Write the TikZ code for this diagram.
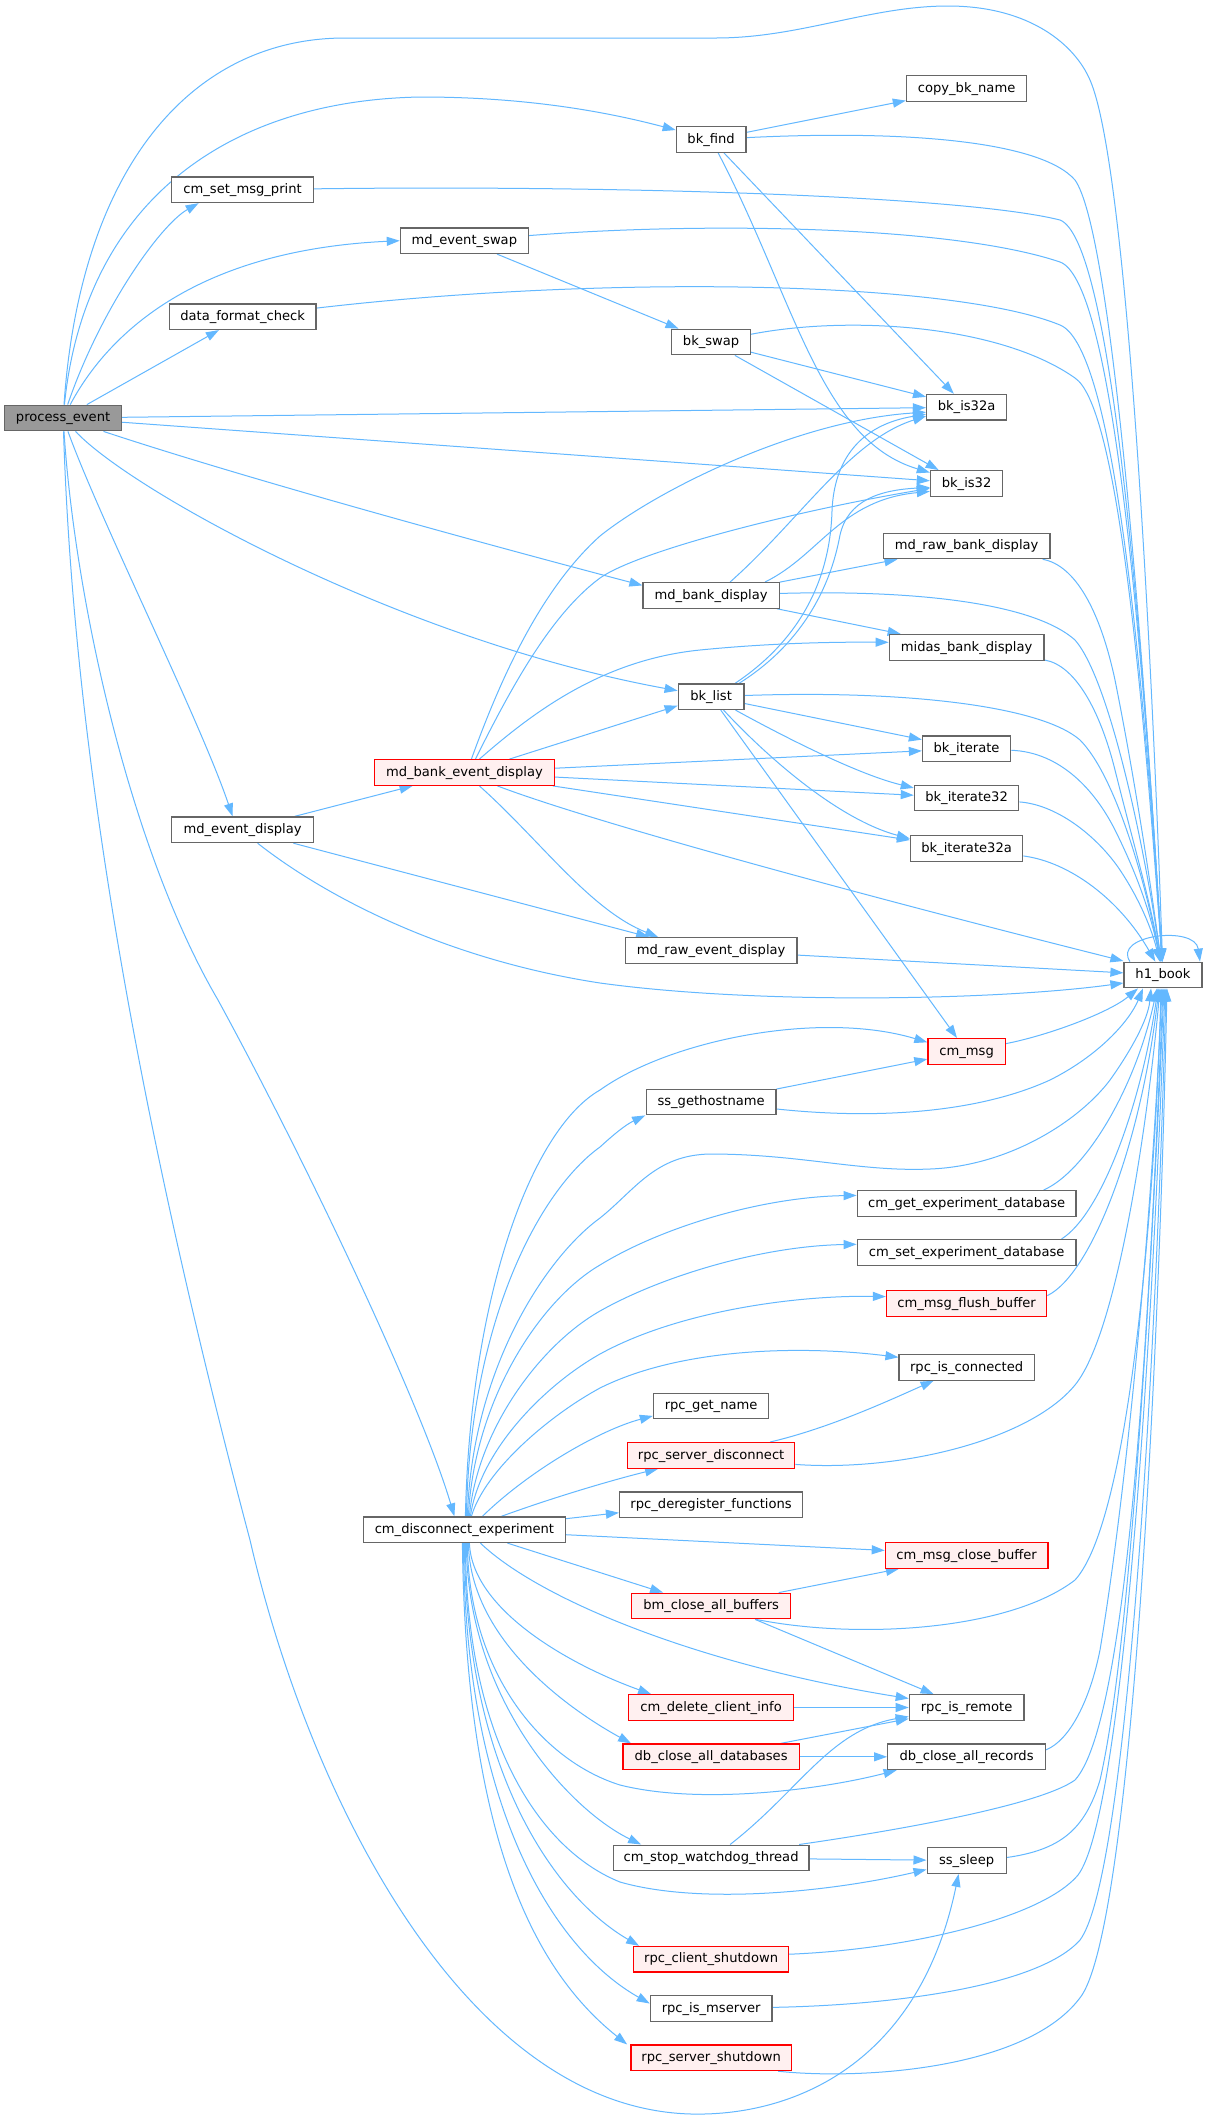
\documentclass[tikz,border=0pt]{standalone}
\usepackage{fontspec}
\newfontfamily\dvs{DejaVu Sans}
\usetikzlibrary{arrows.meta}
\definecolor{edgec}{HTML}{63B8FF}
\definecolor{ndb}{HTML}{666666}
\definecolor{redf}{HTML}{FFF0F0}
\definecolor{grayf}{HTML}{999999}
\pgfdeclarelayer{bg}
\pgfsetlayers{bg,main}
\begin{document}
\begin{tikzpicture}[x=1pt,y=-1pt,
  nd/.style={draw=ndb, fill=white, line width=1.2pt, minimum height=25.6pt, inner sep=0pt,
    text height=10pt, text depth=2.6pt, font=\dvs\fontsize{13.1pt}{15pt}\selectfont},
  rnd/.style={nd, draw=red, fill=redf},
  edg/.style={draw=edgec, line width=1pt, -{Triangle[length=13pt,width=9pt]}}]
\useasboundingbox (0,0) rectangle (1207,2121);
% nodes
\node[nd,fill=grayf,minimum width=116.8pt] (pe) at (63.1,418) {process\_event};
\node[nd,minimum width=141.6pt] (cmset) at (242.6,189.8) {cm\_set\_msg\_print};
\node[nd,minimum width=146.9pt] (dfc) at (242.6,316.7) {data\_format\_check};
\node[nd,minimum width=141.6pt] (mdevd) at (242.6,829.8) {md\_event\_display};
\node[nd,minimum width=128.2pt] (mdswap) at (464.4,240.7) {md\_event\_swap};
\node[rnd,minimum width=180.2pt] (mdbed) at (464.4,772.5) {md\_bank\_event\_display};
\node[nd,minimum width=201.6pt] (cmdis) at (464.4,1529.7) {cm\_disconnect\_experiment};
\node[nd,minimum width=69.7pt] (bkfind) at (711.1,139.4) {bk\_find};
\node[nd,minimum width=78.6pt] (bkswap) at (711.1,342) {bk\_swap};
\node[nd,minimum width=136.2pt] (mdbd) at (711.1,595.4) {md\_bank\_display};
\node[nd,minimum width=65.8pt] (bklist) at (711.1,696.7) {bk\_list};
\node[nd,minimum width=171.8pt] (mdred) at (711.1,950.4) {md\_raw\_event\_display};
\node[nd,minimum width=129.6pt] (ssgh) at (711.1,1102) {ss\_gethostname};
\node[nd,minimum width=115.4pt] (rpcgn) at (711.1,1405.9) {rpc\_get\_name};
\node[rnd,minimum width=167.2pt] (rpcsd) at (711.1,1455.4) {rpc\_server\_disconnect};
\node[nd,minimum width=183.2pt] (rpcdf) at (711.1,1504.7) {rpc\_deregister\_functions};
\node[rnd,minimum width=158.8pt] (bmcab) at (711.1,1606) {bm\_close\_all\_buffers};
\node[rnd,minimum width=165.4pt] (cmdci) at (711.1,1707.5) {cm\_delete\_client\_info};
\node[rnd,minimum width=176.2pt] (dbcad) at (711.1,1756.8) {db\_close\_all\_databases};
\node[nd,minimum width=195.9pt] (cmswt) at (711.1,1857.9) {cm\_stop\_watchdog\_thread};
\node[rnd,minimum width=154.8pt] (rpccs) at (711.1,1959.2) {rpc\_client\_shutdown};
\node[nd,minimum width=121.6pt] (rpcim) at (711.1,2008.5) {rpc\_is\_mserver};
\node[rnd,minimum width=160.2pt] (rpcss) at (711.1,2057.8) {rpc\_server\_shutdown};
\node[nd,minimum width=120.4pt] (copy) at (966.6,88.5) {copy\_bk\_name};
\node[nd,minimum width=80.1pt] (is32a) at (966.6,407.2) {bk\_is32a};
\node[nd,minimum width=72.4pt] (is32) at (966.6,483.4) {bk\_is32};
\node[nd,minimum width=166.8pt] (mdrbd) at (966.6,545.9) {md\_raw\_bank\_display};
\node[nd,minimum width=154.8pt] (midas) at (966.6,647.3) {midas\_bank\_display};
\node[nd,minimum width=88.3pt] (iter) at (966.6,748.7) {bk\_iterate};
\node[nd,minimum width=104.5pt] (iter32) at (966.6,797.9) {bk\_iterate32};
\node[nd,minimum width=112.3pt] (iter32a) at (966.6,848.6) {bk\_iterate32a};
\node[rnd,minimum width=77.4pt] (cmmsg) at (966.6,1051.3) {cm\_msg};
\node[nd,minimum width=218.8pt] (cmget) at (966.6,1203.4) {cm\_get\_experiment\_database};
\node[nd,minimum width=218.8pt] (cmsetdb) at (966.6,1252.3) {cm\_set\_experiment\_database};
\node[rnd,minimum width=160.3pt] (flush) at (966.6,1303.6) {cm\_msg\_flush\_buffer};
\node[nd,minimum width=135.1pt] (rpcic) at (966.6,1367.3) {rpc\_is\_connected};
\node[rnd,minimum width=162.6pt] (cmcb) at (966.6,1555.4) {cm\_msg\_close\_buffer};
\node[nd,minimum width=114.6pt] (rpcir) at (966.6,1707.5) {rpc\_is\_remote};
\node[nd,minimum width=157.9pt] (dbcar) at (966.6,1756.8) {db\_close\_all\_records};
\node[nd,minimum width=79pt] (sssleep) at (966.6,1860.5) {ss\_sleep};
\node[nd,minimum width=78pt] (h1) at (1163,975) {h1\_book};
\begin{pgfonlayer}{bg}
\fill[white] (0,0) rectangle (1207,2121);
% process_event
\draw[edg] (pe) .. controls (80,170) and (190,38) .. (345,38) -- (716,38) .. controls (800,38) and (870,6) .. (948,6) .. controls (1030,6) and (1075,45) .. (1090,80) .. controls (1125,160) and (1150,600) .. (h1);
\draw[edg] (pe) .. controls (85,200) and (230,100) .. (421,97) .. controls (520,97) and (600,110) .. (bkfind);
\draw[edg] (pe) .. controls (100,310) and (160,225) .. ([xshift=-44pt]cmset.south);
\draw[edg] (pe) .. controls (110,330) and (200,250) .. (mdswap.west);
\draw[edg] (pe) -- (dfc);
\draw[edg] (pe) -- (is32a);
\draw[edg] (pe) -- (is32);
\draw[edg] (pe) .. controls (250,480) and (500,548) .. ([yshift=10pt]mdbd.west);
\draw[edg] (pe) .. controls (130,490) and (400,640) .. ([yshift=6pt]bklist.west);
\draw[edg] (pe) .. controls (100,520) and (200,720) .. ([xshift=-10pt]mdevd.north);
\draw[edg] (pe) .. controls (75,600) and (130,850) .. (218,1000) .. controls (300,1150) and (420,1400) .. ([xshift=-10pt]cmdis.north);
\draw[edg] (pe) .. controls (72,700) and (120,1050) .. (250,1540) .. controls (310,1800) and (470,2120) .. (704,2114) .. controls (800,2112) and (920,2060) .. ([xshift=-8pt]sssleep.south);
% bk_find
\draw[edg] (bkfind) -- (copy);
\draw[edg] (bkfind) .. controls (900,130) and (1040,140) .. (1075,180) .. controls (1110,230) and (1140,600) .. (h1);
\draw[edg] (bkfind) -- (is32a);
\draw[edg] (bkfind) .. controls (795,300) and (820,440) .. (is32);
% column 1 / 2 to h1
\draw[edg] (cmset) .. controls (600,185) and (960,195) .. (1060,220) .. controls (1110,240) and (1140,600) .. (h1);
\draw[edg] (mdswap) .. controls (700,222) and (950,225) .. (1060,262) .. controls (1110,280) and (1140,600) .. (h1);
\draw[edg] (mdswap) -- (bkswap);
\draw[edg] (dfc) .. controls (600,275) and (950,280) .. (1060,325) .. controls (1110,345) and (1140,620) .. (h1);
% bk_swap
\draw[edg] (bkswap) .. controls (850,315) and (1000,325) .. (1075,378) .. controls (1115,405) and (1140,650) .. (h1);
\draw[edg] (bkswap) -- (is32a);
\draw[edg] (bkswap) -- ([xshift=-28pt]is32.north);
% md_bank_display
\draw[edg] ([xshift=19pt]mdbd.north) .. controls (800,520) and (850,440) .. ([yshift=-9pt]is32a.west);
\draw[edg] ([xshift=54pt]mdbd.north) .. controls (820,555) and (840,500) .. ([yshift=-8pt]is32.west);
\draw[edg] (mdbd) -- (mdrbd);
\draw[edg] (mdbd) -- (midas);
\draw[edg] (mdbd) .. controls (900,590) and (1030,600) .. (1075,640) .. controls (1110,680) and (1145,850) .. (h1);
\draw[edg] (mdrbd) .. controls (1075,565) and (1100,610) .. (1115,680) .. controls (1135,780) and (1150,880) .. (h1);
\draw[edg] (midas) .. controls (1075,665) and (1100,710) .. (1115,770) .. controls (1135,850) and (1150,900) .. (h1);
% bk_list
\draw[edg] ([xshift=24pt]bklist.north) .. controls (800,640) and (830,580) .. (832,511) .. controls (834,460) and (860,425) .. ([yshift=-7pt]is32a.west);
\draw[edg] ([xshift=28pt]bklist.north) .. controls (800,645) and (830,590) .. (840,535) .. controls (848,500) and (880,490) .. ([yshift=-4pt]is32.west);
\draw[edg] (bklist) .. controls (900,690) and (1040,705) .. (1080,740) .. controls (1115,775) and (1145,880) .. (h1);
\draw[edg] (bklist) -- (iter);
\draw[edg] (bklist) .. controls (790,740) and (860,775) .. ([yshift=10pt]iter32.west);
\draw[edg] (bklist) .. controls (770,760) and (840,820) .. ([yshift=10pt]iter32a.west);
\draw[edg] (bklist) -- (cmmsg);
% md_bank_event_display
\draw[edg] ([xshift=7pt]mdbed.north) .. controls (500,680) and (540,590) .. (600,536) .. controls (660,488) and (800,420) .. ([yshift=-5pt]is32a.west);
\draw[edg] ([xshift=11pt]mdbed.north) .. controls (510,690) and (550,615) .. (600,578) .. controls (640,550) and (800,510) .. ([yshift=-5pt]is32.west);
\draw[edg] ([xshift=15pt]mdbed.north) .. controls (530,715) and (600,660) .. (700,650) .. controls (780,642) and (850,642) .. ([yshift=5pt]midas.west);
\draw[edg] ([xshift=45pt]mdbed.north) -- ([yshift=-9pt]bklist.west);
\draw[edg] (mdbed) -- (iter);
\draw[edg] (mdbed) -- (iter32);
\draw[edg] (mdbed) -- (iter32a);
\draw[edg] ([xshift=33pt]mdbed.south) .. controls (600,825) and (900,905) .. ([yshift=14pt]h1.west);
\draw[edg] ([xshift=15pt]mdbed.south) .. controls (540,840) and (590,910) .. ([xshift=-53pt]mdred.north);
% md_event_display
\draw[edg] (mdevd) -- (mdbed);
\draw[edg] (mdevd) -- ([xshift=-62pt]mdred.north);
\draw[edg] ([xshift=15pt]mdevd.south) .. controls (330,900) and (450,960) .. (600,983) .. controls (760,1005) and (1000,1000) .. ([yshift=-8pt]h1.west);
% iterators
\draw[edg] (iter) .. controls (1060,752) and (1095,790) .. (1115,830) .. controls (1135,870) and (1150,910) .. (h1);
\draw[edg] (iter32) .. controls (1060,805) and (1100,840) .. (1120,870) .. controls (1140,900) and (1152,930) .. (h1);
\draw[edg] (iter32a) .. controls (1070,862) and (1120,900) .. (h1);
\draw[edg] (mdred) -- (h1);
\draw[edg] ([xshift=-33pt]h1.north) .. controls (1112,935) and (1195,925) .. ([xshift=37pt]h1.north);
% cm_msg, ss_gethostname
\draw[edg] (cmmsg) .. controls (1050,1035) and (1110,1012) .. ([xshift=-25pt]h1.south);
\draw[edg] (ssgh) -- (cmmsg);
\draw[edg] (ssgh) .. controls (880,1120) and (980,1112) .. (1050,1080) .. controls (1100,1055) and (1130,1020) .. ([xshift=-20pt]h1.south);
% cm_disconnect_experiment, upper fan
\draw[edg] ([xshift=1pt]cmdis.north) .. controls (470,1300) and (530,1130) .. (600,1090) .. controls (670,1040) and (820,1010) .. ([yshift=9pt]cmmsg.west);
\draw[edg] ([xshift=2pt]cmdis.north) .. controls (470,1320) and (540,1190) .. (600,1147) .. controls (612,1136) and (625,1125) .. ([xshift=-66pt]ssgh.south);
\draw[edg] ([xshift=3pt]cmdis.north) .. controls (472,1370) and (545,1258) .. (600,1218) .. controls (635,1190) and (655,1155) .. (710,1154) .. controls (800,1154) and (860,1172) .. (930,1169) .. controls (1010,1166) and (1080,1120) .. (1110,1080) .. controls (1130,1052) and (1148,1020) .. ([xshift=-12pt]h1.south);
\draw[edg] ([xshift=4pt]cmdis.north) .. controls (474,1400) and (540,1300) .. (600,1265) .. controls (660,1228) and (760,1197) .. ([yshift=8pt]cmget.west);
\draw[edg] ([xshift=5pt]cmdis.north) .. controls (477,1430) and (540,1345) .. (600,1311) .. controls (660,1277) and (760,1246) .. ([yshift=8pt]cmsetdb.west);
\draw[edg] ([xshift=6pt]cmdis.north) .. controls (480,1450) and (545,1385) .. (600,1354) .. controls (680,1310) and (800,1295) .. ([yshift=7pt]flush.west);
\draw[edg] ([xshift=7pt]cmdis.north) .. controls (485,1470) and (550,1415) .. (600,1388) .. controls (680,1348) and (800,1345) .. ([yshift=10pt]rpcic.west);
\draw[edg] ([xshift=18pt]cmdis.north) .. controls (530,1470) and (600,1430) .. ([yshift=-10pt]rpcgn.west);
\draw[edg] ([xshift=37pt]cmdis.north) .. controls (560,1495) and (620,1478) .. ([xshift=-53pt]rpcsd.south);
\draw[edg] ([yshift=11pt]cmdis.east) -- ([yshift=-8pt]rpcdf.west);
\draw[edg] ([yshift=-5pt]cmdis.east) -- ([yshift=5pt]cmcb.west);
% cm_disconnect_experiment, lower fan
\draw[edg] ([xshift=43pt]cmdis.south) -- ([xshift=-48pt]bmcab.north);
\draw[edg] ([xshift=16pt]cmdis.south) .. controls (540,1600) and (700,1665) .. ([yshift=9pt]rpcir.west);
\draw[edg] ([xshift=5pt]cmdis.south) .. controls (472,1610) and (570,1665) .. ([xshift=-60pt]cmdci.north);
\draw[edg] ([xshift=4pt]cmdis.south) .. controls (470,1640) and (570,1710) .. ([xshift=-80pt]dbcad.north);
\draw[edg] ([xshift=3pt]cmdis.south) .. controls (468,1670) and (540,1760) .. (620,1785) .. controls (700,1805) and (820,1790) .. ([xshift=-70pt]dbcar.south);
\draw[edg] ([xshift=2pt]cmdis.south) .. controls (467,1700) and (570,1810) .. ([xshift=-70pt]cmswt.north);
\draw[edg] ([xshift=1pt]cmdis.south) .. controls (466,1740) and (540,1850) .. (620,1882) .. controls (700,1905) and (830,1892) .. ([yshift=-9pt]sssleep.west);
\draw[edg] ([xshift=0pt]cmdis.south) .. controls (466,1780) and (560,1900) .. ([xshift=-72pt]rpccs.north);
\draw[edg] ([xshift=-1pt]cmdis.south) .. controls (465,1810) and (555,1950) .. ([yshift=5pt]rpcim.west);
\draw[edg] ([xshift=-2pt]cmdis.south) .. controls (466,1850) and (540,1975) .. ([xshift=-84pt]rpcss.north);
% right column to h1 (from below)
\draw[edg] ([xshift=77pt]cmget.north) .. controls (1085,1172) and (1135,1090) .. ([xshift=-6pt]h1.south);
\draw[edg] ([xshift=95pt]cmsetdb.north) .. controls (1100,1215) and (1140,1110) .. ([xshift=-5pt]h1.south);
\draw[edg] ([yshift=8pt]flush.east) .. controls (1090,1275) and (1140,1150) .. ([xshift=-4pt]h1.south);
\draw[edg] ([yshift=-9pt]rpcsd.east) .. controls (900,1472) and (1030,1440) .. (1075,1385) .. controls (1120,1330) and (1150,1100) .. ([xshift=-3pt]h1.south);
\draw[edg] ([xshift=59pt]rpcsd.north) .. controls (830,1428) and (890,1400) .. ([xshift=-33pt]rpcic.south);
\draw[edg] (bmcab) -- (cmcb);
\draw[edg] ([xshift=44pt]bmcab.south) -- ([xshift=-33pt]rpcir.north);
\draw[edg] ([xshift=45pt]bmcab.south) .. controls (860,1640) and (1010,1630) .. (1075,1580) .. controls (1130,1520) and (1155,1200) .. ([xshift=-2pt]h1.south);
\draw[edg] (cmdci) -- (rpcir);
\draw[edg] (dbcad) -- (rpcir);
\draw[edg] (dbcad) -- (dbcar);
\draw[edg] ([yshift=7pt]dbcar.east) .. controls (1070,1740) and (1090,1700) .. (1100,1650) .. controls (1125,1500) and (1150,1250) .. ([xshift=-1pt]h1.south);
\draw[edg] ([xshift=19pt]cmswt.north) .. controls (800,1790) and (830,1730) .. ([yshift=-9pt]rpcir.west);
\draw[edg] ([xshift=88pt]cmswt.north) .. controls (900,1830) and (1040,1805) .. (1075,1780) .. controls (1130,1720) and (1150,1300) .. (h1.south);
\draw[edg] (cmswt) -- (sssleep);
\draw[edg] ([yshift=3pt]sssleep.east) .. controls (1060,1850) and (1085,1830) .. (1100,1780) .. controls (1130,1650) and (1150,1300) .. ([xshift=1pt]h1.south);
\draw[edg] ([yshift=5pt]rpccs.east) .. controls (900,1950) and (1040,1920) .. (1078,1875) .. controls (1120,1820) and (1150,1400) .. ([xshift=2pt]h1.south);
\draw[edg] (rpcim) .. controls (900,2005) and (1040,1985) .. (1080,1940) .. controls (1125,1880) and (1155,1400) .. ([xshift=3pt]h1.south);
\draw[edg] ([xshift=67pt]rpcss.south) .. controls (860,2080) and (1030,2070) .. (1082,1995) .. controls (1130,1920) and (1158,1400) .. ([xshift=4pt]h1.south);
\end{pgfonlayer}
\end{tikzpicture}
\end{document}
